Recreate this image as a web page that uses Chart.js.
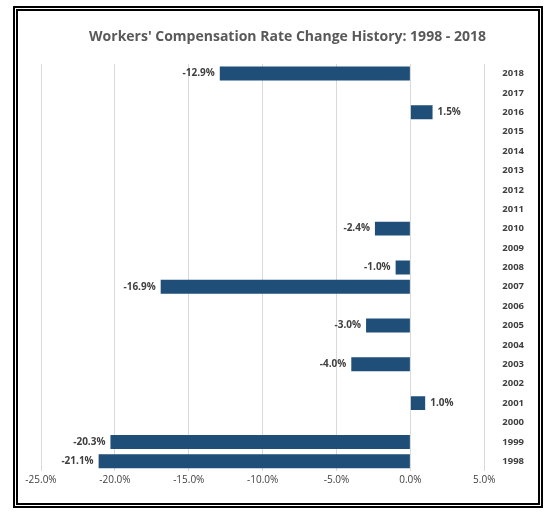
<!DOCTYPE html>
<html>
<head>
<meta charset="utf-8">
<script src="https://cdn.jsdelivr.net/npm/chart.js@4/dist/chart.umd.min.js"></script>
<style>
  body { margin: 0; background: #fff; }
  #frame { position: absolute; left: 13px; top: 6px; width: 520px; height: 492px; border: 5px double #000; }
  #wrap { position: absolute; left: 4px; top: 4px; width: 512px; height: 484px; }
</style>
</head>
<body>
<div id="frame"><div id="wrap"><canvas id="c"></canvas></div></div>
<script>
const years = ["2018","2017","2016","2015","2014","2013","2012","2011","2010","2009","2008","2007","2006","2005","2004","2003","2002","2001","2000","1999","1998"];
const rateChange = [-12.9, null, 1.5, null, null, null, null, null, -2.4, null, -1.0, -16.9, null, -3.0, null, -4.0, null, 1.0, null, -20.3, -21.1];

const barLabels = {
  id: "barLabels",
  afterDatasetsDraw(chart) {
    const ctx = chart.ctx;
    const meta = chart.getDatasetMeta(0);
    ctx.save();
    ctx.font = "bold 10px 'Open Sans', sans-serif";
    ctx.fillStyle = "#404040";
    ctx.textBaseline = "middle";
    meta.data.forEach((bar, i) => {
      const v = rateChange[i];
      if (v === null) return;
      const txt = v.toFixed(1) + "%";
      if (v < 0) { ctx.textAlign = "right"; ctx.fillText(txt, bar.x - 5, bar.y); }
      else { ctx.textAlign = "left"; ctx.fillText(txt, bar.x + 5, bar.y); }
    });
    ctx.restore();
  }
};

new Chart(document.getElementById("c"), {
  type: "bar",
  data: {
    labels: years,
    datasets: [{
      data: rateChange,
      backgroundColor: "#1f4e79",
      categoryPercentage: 1,
      barPercentage: 0.72
    }]
  },
  options: {
    indexAxis: "y",
    responsive: true,
    maintainAspectRatio: false,
    animation: false,
    layout: { padding: { left: 19, right: 0, top: 6, bottom: 10 } },
    scales: {
      x: {
        min: -25, max: 5,
        ticks: { stepSize: 5, color: "#404040", font: { size: 10, family: "'Open Sans', sans-serif" },
          callback: v => v.toFixed(1) + "%" },
        grid: { color: "#d9d9d9", drawTicks: false },
        border: { display: false }
      },
      y: {
        position: "right",
        ticks: { color: "#404040", font: { size: 9.5, weight: "bold", family: "'Open Sans', sans-serif" }, padding: 10 },
        grid: { display: false },
        border: { display: false }
      }
    },
    plugins: {
      legend: { display: false },
      tooltip: { enabled: false },
      title: {
        display: true,
        text: "Workers' Compensation Rate Change History: 1998 - 2018",
        color: "#595959",
        font: { size: 14, weight: "bold", family: "'Open Sans', sans-serif" },
        padding: { top: 8, bottom: 18 }
      }
    }
  },
  plugins: [barLabels]
});
</script>
</body>
</html>
